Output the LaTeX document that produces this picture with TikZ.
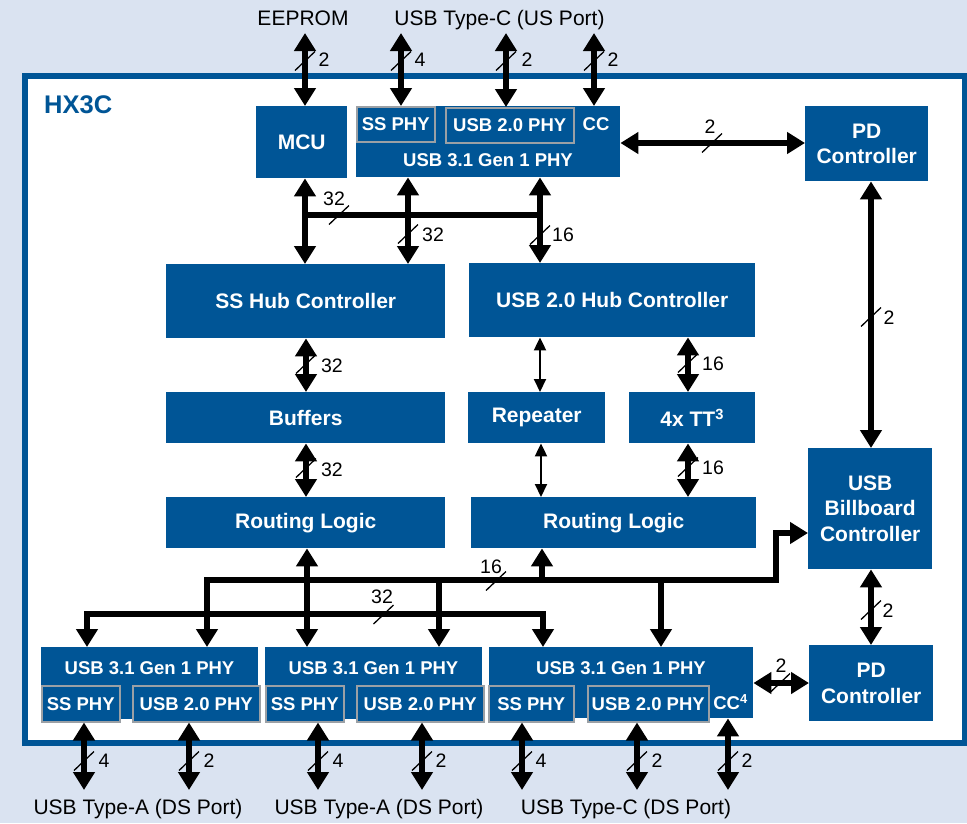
\documentclass[tikz,border=0pt]{standalone}
\usepackage{fontspec}
\setmainfont{Liberation Sans}
\usetikzlibrary{arrows.meta,calc}
\definecolor{cyblue}{RGB}{0,85,150}
\definecolor{bgblue}{RGB}{218,227,241}
\definecolor{subgray}{RGB}{155,160,165}
\tikzset{
  BT/.tip={Triangle[width=21pt,length=18pt]},
  ST/.tip={Triangle[width=12pt,length=13pt]},
  blk/.style={fill=cyblue, draw=none, text=white, font=\fontsize{21}{25.5}\selectfont\bfseries, align=center, inner sep=0pt, anchor=north west},
  subbox/.style={fill=cyblue, draw=subgray, line width=1.5pt, text=white, font=\fontsize{18.5}{21}\selectfont\bfseries, inner sep=0pt, anchor=north west},
  phytxt/.style={text=white, font=\fontsize{18.5}{21}\selectfont\bfseries, inner sep=0pt},
  bus/.style={line width=6.5pt, line join=miter, draw=black},
  dbl/.style={bus, BT-BT},
  thn/.style={line width=2pt, draw=black, ST-ST},
  tk/.style={line width=1.3pt, draw=black},
  wlab/.style={font=\fontsize{19.5}{21}\selectfont, inner sep=0pt},
  port/.style={font=\fontsize{21}{23}\selectfont, inner sep=0pt, anchor=base}
}
\newcommand\tick[2]{\draw[tk] (#1,#2) ++(-10,9.5) -- ++(20,-19);}
\newcommand\wl[4]{\node[wlab] (#1) at (#2,#3) {#4};}
\begin{document}
\begin{tikzpicture}[x=1pt,y=-1pt]
\useasboundingbox (0,0) rectangle (967,823);
\fill[bgblue] (0,0) rectangle (967,823);
\draw[cyblue, line width=6pt, fill=white] (25,76) rectangle (965,743);
\node[anchor=west, text=cyblue, font=\fontsize{25.5}{28}\selectfont\bfseries, inner sep=0pt] (hx) at (44,105) {HX3C};

% top row
\node[blk, minimum width=91pt, minimum height=72pt] (mcu) at (256,106) {MCU};
\node[blk, minimum width=264pt, minimum height=71pt] (tphy) at (356,106) {};
\node[subbox, minimum width=78pt, minimum height=35pt] (tss) at (356,106) {SS PHY};
\node[subbox, minimum width=128pt, minimum height=35pt] (tu2) at (445,107) {USB 2.0 PHY};
\node[phytxt] (tcc) at (596,124) {CC};
\node[phytxt] (ttl) at (488,160) {USB 3.1 Gen 1 PHY};
\node[blk, minimum width=123pt, minimum height=75pt] (pd1) at (805,106) {PD\\Controller};

% middle
\node[blk, minimum width=279pt, minimum height=74pt] (sshub) at (166,264) {SS Hub Controller};
\node[blk, minimum width=286pt, minimum height=74pt] (u2hub) at (469,263) {USB 2.0 Hub Controller};
\node[blk, minimum width=279pt, minimum height=51pt] (buf) at (166,392) {Buffers};
\node[blk, minimum width=137pt, minimum height=51pt] (rep) at (468,392) {Repeater};
\node[blk, minimum width=126pt, minimum height=51pt] (tt) at (629,392) {4x TT\textsuperscript{3}};
\node[blk, minimum width=279pt, minimum height=51pt] (rl1) at (166,497) {Routing Logic};
\node[blk, minimum width=285pt, minimum height=51pt] (rl2) at (471,497) {Routing Logic};
\node[blk, minimum width=124pt, minimum height=121pt] (bb) at (808,448) {USB\\Billboard\\Controller};
\node[blk, minimum width=124pt, minimum height=76pt] (pd2) at (809,645) {PD\\Controller};

% bottom PHYs
\node[blk, minimum width=217pt, minimum height=72pt] (p1) at (41,647) {};
\node[subbox, minimum width=78pt, minimum height=36pt] (p1ss) at (41,685) {SS PHY};
\node[subbox, minimum width=127pt, minimum height=36pt] (p1u2) at (132,685) {USB 2.0 PHY};
\node[phytxt] (p1t) at (149.5,668) {USB 3.1 Gen 1 PHY};
\node[blk, minimum width=217pt, minimum height=72pt] (p2) at (265,647) {};
\node[subbox, minimum width=78pt, minimum height=36pt] (p2ss) at (265,685) {SS PHY};
\node[subbox, minimum width=127pt, minimum height=36pt] (p2u2) at (356,685) {USB 2.0 PHY};
\node[phytxt] (p2t) at (373.5,668) {USB 3.1 Gen 1 PHY};
\node[blk, minimum width=264pt, minimum height=71pt] (p3) at (489,647) {};
\node[subbox, minimum width=85pt, minimum height=36pt] (p3ss) at (488,685) {SS PHY};
\node[subbox, minimum width=121pt, minimum height=36pt] (p3u2) at (587,685) {USB 2.0 PHY};
\node[phytxt] (p3t) at (621,668) {USB 3.1 Gen 1 PHY};
\node[phytxt] (p3cc) at (730.5,702) {CC\textsuperscript{4}};

% port labels
\node[port] (eeprom) at (303,25) {EEPROM};
\node[port] (usport) at (499.5,25) {USB Type-C (US Port)};
\node[port] (ds1) at (138,814) {USB Type-A (DS Port)};
\node[port] (ds2) at (379,814) {USB Type-A (DS Port)};
\node[port] (ds3) at (626,814) {USB Type-C (DS Port)};

% top external arrows
\coordinate (ea) at (305,33);
\coordinate (sa) at (401,33);
\coordinate (ua) at (506,33);
\coordinate (ca) at (594,33);
\draw[dbl] (ea) -- (mcu.north -| ea);
\draw[dbl] (sa) -- (tss.north -| sa);
\draw[dbl] (ua) -- (tu2.north -| ua);
\draw[dbl] (ca) -- (tphy.north -| ca);

% top internal bus
\draw[dbl] (mcu.south -| 305,0) -- (sshub.north -| 305,0);
\draw[dbl] (tphy.south -| 408,0) -- (sshub.north -| 408,0);
\draw[dbl] (tphy.south -| 540,0) -- (u2hub.north -| 540,0);
\draw[bus] (305,215) -- (540,215);

% right column
\draw[dbl] (tphy.east |- 0,143) -- (pd1.west |- 0,143);
\draw[dbl] (pd1.south -| 871,0) -- (bb.north -| 871,0);
\draw[dbl] (bb.south -| 871,0) -- (pd2.north -| 871,0);
\draw[dbl] (p3.east |- 0,683) -- (pd2.west |- 0,683);

% middle connections
\draw[dbl] (sshub.south -| 306,0) -- (buf.north -| 306,0);
\draw[dbl] (buf.south -| 306,0) -- (rl1.north -| 306,0);
\draw[thn] (u2hub.south -| 540,0) -- (rep.north -| 540,0);
\draw[thn] (rep.south -| 541,0) -- (rl2.north -| 541,0);
\draw[dbl] (u2hub.south -| 688,0) -- (tt.north -| 688,0);
\draw[dbl] (tt.south -| 688,0) -- (rl2.north -| 688,0);

% bottom buses
\coordinate (ub1) at (439,580);
\coordinate (ub2) at (661,580);
\coordinate (ub3) at (542,580);
\draw[dbl] (rl1.south -| 307,0) -- (p2.north -| 307,0);
\draw[bus, BT-BT] (p1.north -| 207,0) -- (207,580) -- (776,580) -- (776,533) -- (bb.west |- 0,533);
\draw[bus, -BT] (ub1) -- (p2.north -| ub1);
\draw[bus, -BT] (ub2) -- (p3.north -| ub2);
\draw[bus, -BT] (ub3) -- (rl2.south -| ub3);
\draw[bus, BT-BT] (p1.north -| 87,0) -- (87,614) -- (543,614) -- (p3.north -| 543,0);

% bottom external arrows
\coordinate (b1) at (84,790);
\coordinate (b2) at (189,790);
\coordinate (b3) at (318,790);
\coordinate (b4) at (422,790);
\coordinate (b5) at (522,790);
\coordinate (b6) at (637,790);
\coordinate (b7) at (728,790);
\draw[dbl] (p1ss.south -| b1) -- (b1);
\draw[dbl] (p1u2.south -| b2) -- (b2);
\draw[dbl] (p2ss.south -| b3) -- (b3);
\draw[dbl] (p2u2.south -| b4) -- (b4);
\draw[dbl] (p3ss.south -| b5) -- (b5);
\draw[dbl] (p3u2.south -| b6) -- (b6);
\draw[dbl] (p3.south -| b7) -- (b7);

% ticks and widths
\tick{305}{61} \wl{w1}{324}{60}{2}
\tick{401}{61} \wl{w2}{420}{60}{4}
\tick{506}{61} \wl{w3}{527}{60}{2}
\tick{594}{61} \wl{w4}{613}{60}{2}
\tick{339}{215} \wl{w5}{334}{199}{32}
\tick{408}{234} \wl{w6}{433}{235}{32}
\tick{540}{235} \wl{w7}{563}{235}{16}
\tick{712}{143} \wl{w8}{710}{127}{2}
\tick{871}{317} \wl{w9}{889}{318}{2}
\tick{306}{364} \wl{w10}{332}{366}{32}
\tick{306}{468} \wl{w11}{332}{470}{32}
\tick{688}{363} \wl{w12}{713}{364}{16}
\tick{688}{467} \wl{w13}{713}{468}{16}
\tick{496}{581} \wl{w14}{491}{567}{16}
\tick{383.5}{614.5} \wl{w15}{382}{597}{32}
\tick{871}{610} \wl{w16}{888}{611}{2}
\tick{780}{683} \wl{w17}{781}{666}{2}
\tick{84}{761} \wl{w18}{104}{761}{4}
\tick{189}{761} \wl{w19}{209}{761}{2}
\tick{318}{761} \wl{w20}{338}{761}{4}
\tick{422}{761} \wl{w21}{441}{761}{2}
\tick{522}{761} \wl{w22}{541}{761}{4}
\tick{637}{761} \wl{w23}{657}{761}{2}
\tick{728}{761} \wl{w24}{747}{761}{2}
\end{tikzpicture}
\end{document}
